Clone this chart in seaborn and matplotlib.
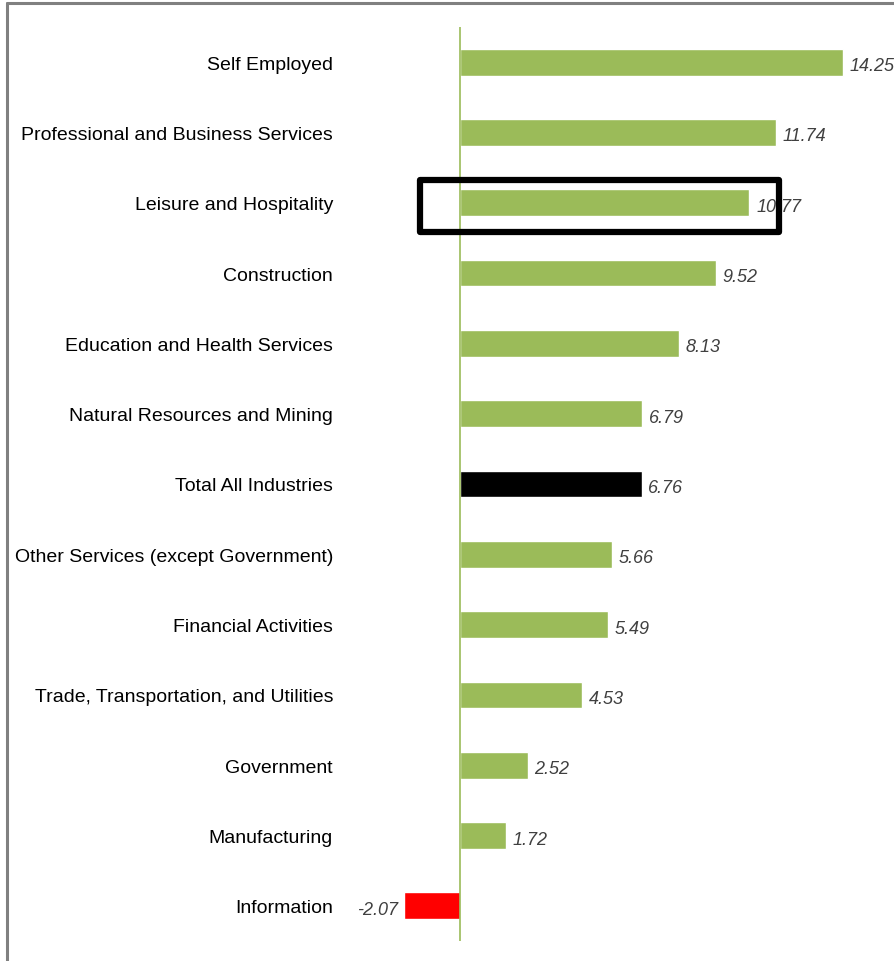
import matplotlib
matplotlib.use("Agg")
import matplotlib.pyplot as plt
import seaborn as sns
import pandas as pd
from matplotlib.patches import Rectangle
from matplotlib.lines import Line2D

categories = ["Self Employed", "Professional and Business Services", "Leisure and Hospitality",
              "Construction", "Education and Health Services", "Natural Resources and Mining",
              "Total All Industries", "Other Services (except Government)", "Financial Activities",
              "Trade, Transportation, and Utilities", "Government", "Manufacturing", "Information"]
values = [14.25, 11.74, 10.77, 9.52, 8.13, 6.79, 6.76, 5.66, 5.49, 4.53, 2.52, 1.72, -2.07]
labels = ["14.25", "11.74", "10.77", "9.52", "8.13", "6.79", "6.76", "5.66", "5.49", "4.53",
          "2.52", "1.72", "-2.07"]
kinds = ["industry"] * 6 + ["total"] + ["industry"] * 5 + ["negative"]
palette = {"industry": "#9BBB59", "total": "#000000", "negative": "#FF0000"}

df = pd.DataFrame({"category": categories, "value": values, "kind": kinds})

sns.set_style("white")
plt.rcParams["font.family"] = ["Liberation Sans Narrow", "Liberation Sans", "DejaVu Sans"]

fig = plt.figure(figsize=(8.95, 9.62), dpi=100)
ax = fig.add_axes([390.1 / 895, 20 / 962, (876.6 - 390.1) / 895, (942 - 28) / 962])

sns.barplot(data=df, x="value", y="category", hue="kind", palette=palette, orient="h",
            width=0.38, dodge=False, legend=False, ax=ax, saturation=1)

ax.set_xlim(-2.6, 15.5)
ax.set_ylim(12.5, -0.5)
ax.axvline(0, color="#9BBB59", lw=1.2)
for s in ax.spines.values():
    s.set_visible(False)
ax.set_xticks([])
ax.set_xlabel("")
ax.set_ylabel("")
ax.tick_params(axis="y", length=0, pad=57 * 0.72, labelsize=14, labelcolor="#000000")

for i, (v, t) in enumerate(zip(values, labels)):
    if v >= 0:
        ax.text(v + 0.25, i + 0.05, t, ha="left", va="center", fontsize=13,
                style="italic", color="#404040")
    else:
        ax.text(v - 0.25, i + 0.05, t, ha="right", va="center", fontsize=13,
                style="italic", color="#404040")

ax.add_patch(Rectangle((-1.49, 1.675), 11.87 + 1.49, 0.74, fill=False, edgecolor="black",
                       lw=4.5, clip_on=False, zorder=5, joinstyle="round"))

fig.add_artist(Line2D([7 / 895, 7 / 895], [0, 1 - 4 / 962], color="#808080", lw=2.2,
                      transform=fig.transFigure))
fig.add_artist(Line2D([7 / 895, 1], [1 - 4 / 962, 1 - 4 / 962], color="#808080", lw=2.2,
                      transform=fig.transFigure))

fig.savefig("out.png", dpi=100)
